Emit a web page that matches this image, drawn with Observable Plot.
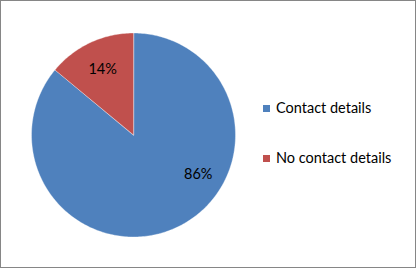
<!DOCTYPE html>
<html>
<head>
<meta charset="utf-8">
<script src="https://cdn.jsdelivr.net/npm/d3@7"></script>
<script src="https://cdn.jsdelivr.net/npm/@observablehq/plot@0.6"></script>
<style>
  html, body { margin: 0; padding: 0; background: #fff; }
  #chart { position: relative; width: 417px; height: 269px; font-family: Lato, "Open Sans", sans-serif; }
  #chart svg { position: absolute; left: 0; top: 0; }
  #frame { position: absolute; left: 0; top: 0; width: 416px; height: 268px; box-sizing: border-box; border: 1px solid #868686; pointer-events: none; }
  .legend { position: absolute; left: 263px; font-size: 14.5px; color: #000; line-height: 16px; white-space: nowrap; }
  .legend .sw { display: inline-block; width: 7px; height: 7px; margin-right: 6px; vertical-align: 1px; }
</style>
</head>
<body>
<div id="chart"><div id="frame"></div></div>
<script>
// Share of records with and without contact details
const categories = ["Contact details", "No contact details"];
const shares = [86, 14];
const colors = ["#4F81BD", "#C0504D"];

const W = 417, H = 269;
const cx = 133, cy = 134.5, R = 102; // pie centre and radius in pixels

// Slice angles, clockwise from 12 o'clock
const arcs = d3.pie().sort(null).value(d => d)(shares);

// Outline of each slice as a closed polygon in unit-circle coordinates
const slices = arcs.map((a, i) => {
  const n = Math.max(4, Math.ceil((a.endAngle - a.startAngle) / (Math.PI / 180)));
  const pts = [{x: 0, y: 0}];
  for (let k = 0; k <= n; k++) {
    const t = a.startAngle + (a.endAngle - a.startAngle) * k / n;
    pts.push({x: Math.sin(t), y: Math.cos(t)});
  }
  return {category: categories[i], color: colors[i], pts};
});

// Label placement per slice (angle in degrees clockwise from top, radius fraction)
const labelSpots = [{angle: 121, r: 0.74}, {angle: null, r: 0.71}];
const labels = arcs.map((a, i) => {
  const s = labelSpots[i];
  const t = s.angle == null ? (a.startAngle + a.endAngle) / 2 : s.angle * Math.PI / 180;
  return {text: `${shares[i]}%`, x: s.r * Math.sin(t), y: s.r * Math.cos(t)};
});

const plot = Plot.plot({
  width: W,
  height: H,
  margin: 0,
  x: {domain: [-cx / R, (W - cx) / R], axis: null},
  y: {domain: [-(H - cy) / R, cy / R], axis: null},
  marks: [
    ...slices.map(s => Plot.line(s.pts, {
      x: "x", y: "y", fill: s.color, stroke: "#ffffff", strokeWidth: 0.6,
      strokeOpacity: 0.6, curve: "linear-closed"
    })),
    Plot.text(labels, {
      x: "x", y: "y", text: "text", fontSize: 14.5, fill: "#000",
      fontFamily: "Lato, 'Open Sans', sans-serif"
    })
  ]
});

const chart = document.getElementById("chart");
chart.insertBefore(plot, chart.firstChild);

// Legend
const legendTops = [100, 150];
categories.forEach((c, i) => {
  const row = document.createElement("div");
  row.className = "legend";
  row.style.top = legendTops[i] + "px";
  row.innerHTML = `<span class="sw" style="background:${colors[i]}"></span>${c}`;
  chart.appendChild(row);
});
</script>
</body>
</html>
